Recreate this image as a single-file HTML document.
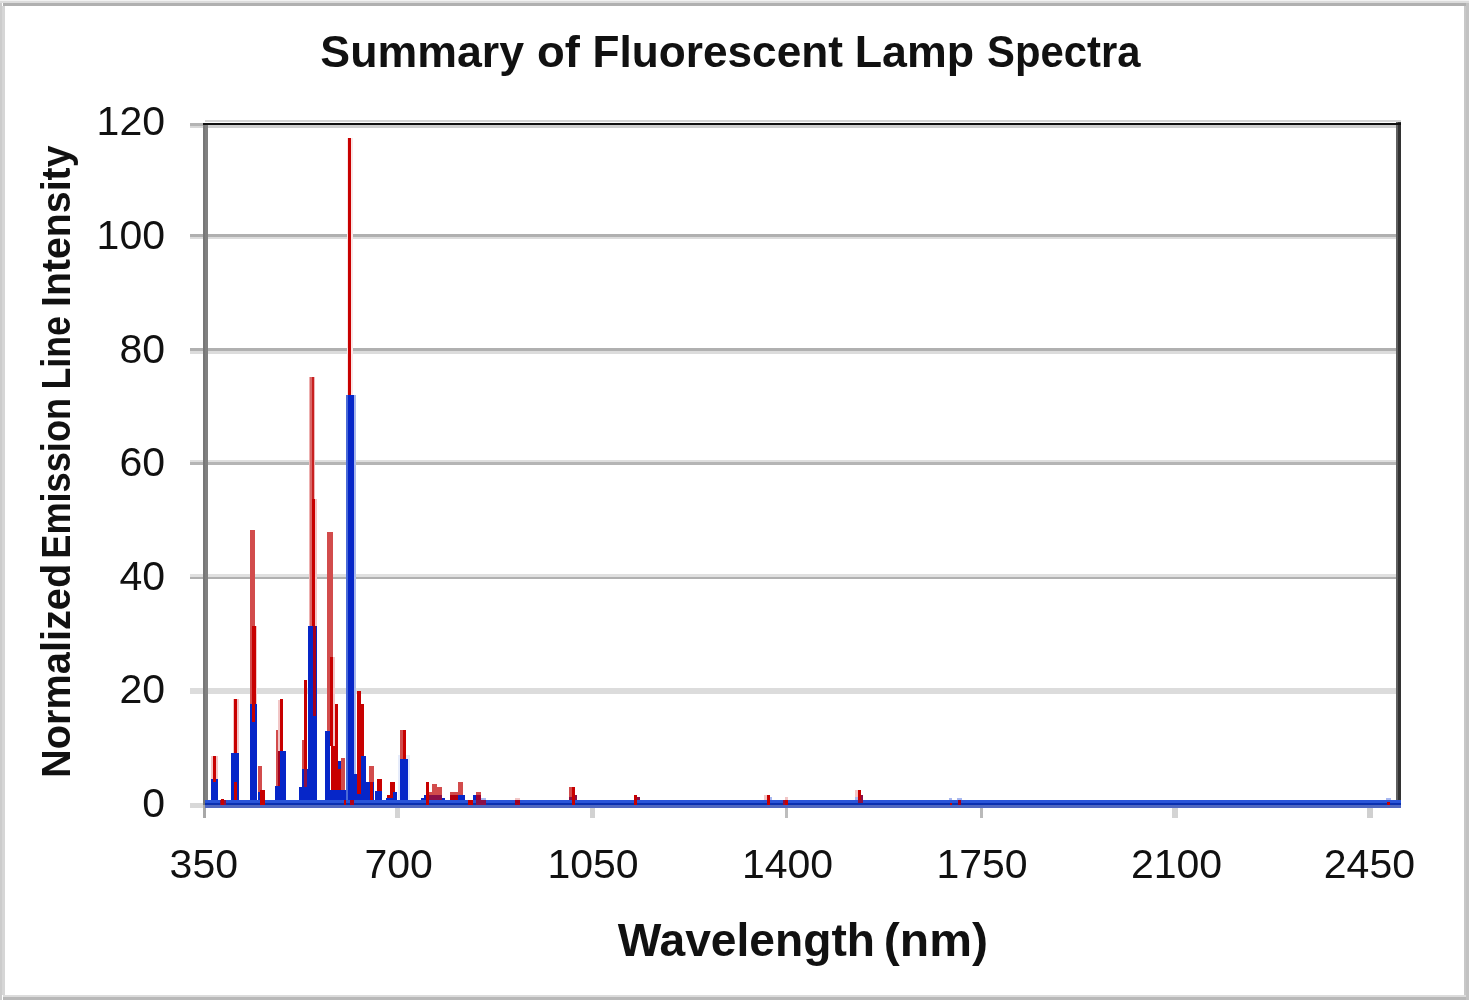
<!DOCTYPE html>
<html><head><meta charset="utf-8">
<style>
html,body{margin:0;padding:0;background:#fff;}
body{width:1469px;height:1000px;overflow:hidden;position:relative;font-family:"Liberation Sans",sans-serif;}
svg{position:absolute;left:0;top:0;filter:blur(0.5px);}
</style></head>
<body>
<svg width="1469" height="1000" viewBox="0 0 1469 1000" shape-rendering="crispEdges">
<!-- outer frame -->
<rect x="0" y="0" width="1469" height="1000" fill="#fff"/>
<rect x="0" y="0" width="1469" height="1" fill="#f2f2f2"/>
<rect x="0" y="1" width="1469" height="2" fill="#dcdcdc"/>
<rect x="3" y="3" width="1463" height="3" fill="#b0b0b0"/>
<rect x="0" y="3" width="2" height="997" fill="#cccccc"/>
<rect x="2" y="6" width="3" height="989" fill="#d6d6d6"/>
<rect x="1464" y="6" width="2" height="989" fill="#c8c8c8"/>
<rect x="1466" y="3" width="3" height="997" fill="#c2c2c2"/>
<rect x="3" y="995" width="1463" height="2" fill="#dcdcdc"/>
<rect x="3" y="997" width="1463" height="3" fill="#b8b8b8"/>

<!-- right border -->
<rect x="1396" y="122" width="2" height="686" fill="#606060"/>
<rect x="1398" y="122" width="3" height="686" fill="#333"/>
<!-- gridlines -->
<g id="grid">
<rect x="205" y="120" width="1196" height="2" fill="#d4d4d4"/>
<rect x="208" y="125" width="1188" height="3" fill="#d0d0d0"/>
<rect x="190" y="123" width="13" height="2.5" fill="#b4b4b4"/>
<rect x="190" y="125.5" width="13" height="2.5" fill="#d8d8d8"/>
<rect x="190" y="234" width="1206" height="3" fill="#b0b0b0"/>
<rect x="190" y="237" width="1206" height="2" fill="#dcdcdc"/>
<rect x="190" y="348" width="1206" height="3" fill="#b0b0b0"/>
<rect x="190" y="351" width="1206" height="3" fill="#dcdcdc"/>
<rect x="190" y="460" width="1206" height="2" fill="#dedede"/>
<rect x="190" y="462" width="1206" height="3" fill="#b5b5b5"/>
<rect x="190" y="574" width="1206" height="3" fill="#e0e0e0"/>
<rect x="190" y="577" width="1206" height="2" fill="#b0b0b0"/>
<rect x="190" y="688" width="1206" height="6" fill="#dcdcdc"/>
<rect x="190" y="803" width="14" height="5" fill="#d8d8d8"/>
<rect x="203" y="122.5" width="1198" height="2.5" fill="#111"/>
</g>
<!-- y axis -->
<rect x="203" y="125" width="2" height="693" fill="#777"/>
<rect x="205" y="125" width="3" height="682" fill="#808080"/>
<!-- x ticks -->
<g id="xticks">
<rect x="203" y="805" width="2.5" height="13" fill="#a8a8a8"/>
<rect x="395.1" y="808" width="4.9" height="10" fill="#d4d4d4"/>
<rect x="590" y="808" width="5" height="10" fill="#d2d2d2"/>
<rect x="785" y="808" width="2.8" height="10" fill="#bdbdbd"/>
<rect x="980" y="808" width="2.9" height="10" fill="#bababa"/>
<rect x="1172.1" y="808" width="5.4" height="10" fill="#d4d4d4"/>
<rect x="1367.1" y="808" width="5.8" height="10" fill="#d0d0d0"/>
</g>

<g id="data">
<rect x="211" y="756" width="7" height="23" fill="#f2c6c6"/>
<rect x="210.6" y="779" width="7.4" height="21" fill="#0626c8"/>
<rect x="213" y="755.8" width="3.2" height="26.2" fill="#c80000"/>
<rect x="219.5" y="800" width="6.0" height="5" fill="#8a1048"/>
<rect x="220.8" y="799" width="2.8" height="6" fill="#c80000"/>
<rect x="233" y="699" width="6" height="54" fill="#f2c6c6"/>
<rect x="231.3" y="753.3" width="7.7" height="46.7" fill="#0626c8"/>
<rect x="234" y="698.8" width="3" height="54.5" fill="#c80000"/>
<rect x="234" y="782" width="3" height="17.5" fill="#c80000"/>
<rect x="249.6" y="530" width="5.4" height="174" fill="#d24c4c"/>
<rect x="255" y="626" width="2" height="78" fill="#f2c6c6"/>
<rect x="251.6" y="626" width="4.0" height="78" fill="#c80000"/>
<rect x="249.6" y="703.8" width="7.8" height="96.2" fill="#0626c8"/>
<rect x="252" y="703.8" width="3" height="18.2" fill="#c80000"/>
<rect x="257.7" y="766" width="4.5" height="34" fill="#d24c4c"/>
<rect x="257.5" y="792" width="4.5" height="8" fill="#0626c8"/>
<rect x="259.8" y="789.5" width="5.4" height="15.5" fill="#c80000"/>
<rect x="275.7" y="730" width="5.1" height="56" fill="#d24c4c"/>
<rect x="279.6" y="699" width="3.6" height="51.5" fill="#c80000"/>
<rect x="278.2" y="700" width="1.4" height="50.5" fill="#f2c6c6"/>
<rect x="278.4" y="750.5" width="2.2" height="35.5" fill="#a00020"/>
<rect x="280.2" y="750.5" width="5.6" height="49.5" fill="#0626c8"/>
<rect x="275.4" y="786" width="5.4" height="14" fill="#0626c8"/>
<rect x="299" y="786.7" width="6" height="13.3" fill="#0626c8"/>
<rect x="301.7" y="740" width="3.3" height="47" fill="#d24c4c"/>
<rect x="302.3" y="768.7" width="7.2" height="31.3" fill="#0626c8"/>
<rect x="303.8" y="680" width="3.4" height="88.7" fill="#c80000"/>
<rect x="303.8" y="768.7" width="3.4" height="18.3" fill="#8a1048"/>
<rect x="307.8" y="626" width="9.6" height="174" fill="#0626c8"/>
<rect x="308.8" y="376.8" width="0.9" height="249.2" fill="#eeb0b0"/>
<rect x="309.7" y="376.8" width="2.3" height="249.2" fill="#d86868"/>
<rect x="312" y="376.8" width="2.2" height="122.2" fill="#c82020"/>
<rect x="314.2" y="376.8" width="1.1" height="122.2" fill="#eeb8b8"/>
<rect x="314.2" y="499" width="2.8" height="127" fill="#f2c6c6"/>
<rect x="311.8" y="499" width="3.2" height="127" fill="#c80000"/>
<rect x="312.5" y="626" width="3.7" height="90" fill="#a00020"/>
<rect x="327.4" y="532" width="5.6" height="214" fill="#d24c4c"/>
<rect x="333" y="657" width="2" height="89" fill="#f2c6c6"/>
<rect x="330" y="657" width="3" height="89" fill="#c80000"/>
<rect x="325" y="730.5" width="5.3" height="69.5" fill="#0626c8"/>
<rect x="335.2" y="704" width="2.8" height="86" fill="#c80000"/>
<rect x="330.6" y="746" width="5.0" height="44" fill="#c80000"/>
<rect x="338" y="768.6" width="4.8" height="25.4" fill="#c80000"/>
<rect x="338.2" y="760.8" width="2.8" height="7.8" fill="#0626c8"/>
<rect x="341" y="758.4" width="4.2" height="36.6" fill="#d24c4c"/>
<rect x="325" y="790" width="21" height="10" fill="#0626c8"/>
<rect x="346.5" y="138" width="6.5" height="257" fill="#fae6e6"/>
<rect x="345.8" y="395" width="2.4" height="405" fill="#4a6ad8"/>
<rect x="353.6" y="395" width="2.4" height="405" fill="#a8b8ec"/>
<rect x="348.2" y="395" width="5.4" height="405" fill="#0626c8"/>
<rect x="348" y="138" width="3.2" height="257" fill="#c80000"/>
<rect x="354" y="773.5" width="2.6" height="26.5" fill="#0626c8"/>
<rect x="343.5" y="800" width="2.5" height="5" fill="#c80000"/>
<rect x="349.5" y="800" width="4.0" height="5" fill="#b00018"/>
<rect x="356.5" y="691" width="4.5" height="103" fill="#c80000"/>
<rect x="359" y="704" width="4.7" height="90" fill="#c80000"/>
<rect x="361.2" y="756" width="4.6" height="44" fill="#0626c8"/>
<rect x="354" y="794" width="7.2" height="6" fill="#0626c8"/>
<rect x="366.4" y="782" width="7.2" height="18" fill="#0626c8"/>
<rect x="369" y="766.4" width="5.2" height="15.6" fill="#d24c4c"/>
<rect x="370" y="782" width="3" height="18" fill="#c80000"/>
<rect x="376.8" y="779.4" width="5.2" height="12.6" fill="#c80000"/>
<rect x="374.9" y="791" width="7.1" height="9" fill="#0626c8"/>
<rect x="387" y="794.8" width="3.2" height="5.2" fill="#c80000"/>
<rect x="390.2" y="782.2" width="4.5" height="15.3" fill="#c80000"/>
<rect x="393.3" y="792" width="4.1" height="8" fill="#0626c8"/>
<rect x="385.7" y="797.5" width="8.1" height="2.5" fill="#0626c8"/>
<rect x="398" y="755" width="12" height="45" fill="#e6ecfb"/>
<rect x="400" y="730" width="2.5" height="29" fill="#d24c4c"/>
<rect x="402.5" y="730" width="3.0" height="29" fill="#c80000"/>
<rect x="400" y="759" width="8.2" height="41" fill="#0626c8"/>
<rect x="421.2" y="797.6" width="23.6" height="2.4" fill="#0626c8"/>
<rect x="424" y="795.2" width="8" height="4.8" fill="#0626c8"/>
<rect x="429.2" y="795" width="12.8" height="5" fill="#8a1048"/>
<rect x="431.8" y="784" width="5.0" height="11" fill="#d24c4c"/>
<rect x="436.8" y="787.2" width="5.2" height="7.8" fill="#d24c4c"/>
<rect x="429.2" y="791.6" width="2.6" height="3.4" fill="#d24c4c"/>
<rect x="426.2" y="782" width="2.6" height="23" fill="#c80000"/>
<rect x="450.2" y="792.2" width="7.6" height="2.8" fill="#d24c4c"/>
<rect x="450.2" y="795" width="7.6" height="5" fill="#b00010"/>
<rect x="458.2" y="795" width="6.8" height="5" fill="#0626c8"/>
<rect x="457.8" y="782" width="5.0" height="13" fill="#d24c4c"/>
<rect x="468.2" y="800" width="4.6" height="5" fill="#c80000"/>
<rect x="473.4" y="795" width="2.4" height="5" fill="#0626c8"/>
<rect x="476" y="792.2" width="4.8" height="2.8" fill="#d24c4c"/>
<rect x="476" y="795" width="4.8" height="5" fill="#a00030"/>
<rect x="481" y="797.6" width="5" height="2.4" fill="#a8b8f0"/>
<rect x="476" y="800" width="10" height="5" fill="#8a1048"/>
<rect x="515" y="798" width="5" height="2" fill="#f2c6c6"/>
<rect x="515" y="800" width="5" height="5" fill="#a00020"/>
<rect x="569.2" y="787" width="2.8" height="10" fill="#d24c4c"/>
<rect x="569.2" y="797" width="2.8" height="3" fill="#8a1048"/>
<rect x="572" y="787" width="2.7" height="18" fill="#c80000"/>
<rect x="574.7" y="795" width="2.3" height="5" fill="#8a1048"/>
<rect x="634" y="795" width="3" height="10" fill="#c80000"/>
<rect x="637" y="797" width="3" height="3" fill="#8a1048"/>
<rect x="764" y="795" width="3" height="5" fill="#f2c6c6"/>
<rect x="767" y="795" width="2.5" height="10" fill="#c80000"/>
<rect x="769.5" y="797" width="2.5" height="3" fill="#a8b8f0"/>
<rect x="785" y="797" width="2.5" height="3" fill="#f2c6c6"/>
<rect x="783" y="800" width="2" height="5" fill="#8a1048"/>
<rect x="785" y="800" width="2.5" height="5" fill="#c80000"/>
<rect x="855.2" y="790" width="2.8" height="7" fill="#f2c6c6"/>
<rect x="855.2" y="797" width="2.8" height="3" fill="#a8b8f0"/>
<rect x="858" y="790" width="2.6" height="10" fill="#c80000"/>
<rect x="860.6" y="795" width="2.4" height="5" fill="#8a1048"/>
<rect x="858" y="800" width="5" height="3" fill="#8a1048"/>
<rect x="949" y="798" width="3.4" height="2" fill="#a8b8f0"/>
<rect x="950" y="803" width="2" height="2" fill="#c80000"/>
<rect x="957" y="798" width="5" height="2" fill="#a8b8f0"/>
<rect x="958" y="800" width="3" height="5" fill="#a00020"/>
<rect x="1386" y="797.6" width="5" height="2.4" fill="#a8b8f0"/>
<rect x="1387" y="802" width="3" height="3" fill="#c80000"/>
</g>
<g id="base">
<rect x="205" y="800" width="1196" height="3" fill="#2a55d8"/>
<rect x="205" y="803" width="1196" height="2" fill="#0a30b0"/>
<rect x="205" y="805" width="1196" height="3" fill="#5068c0"/>
</g>
<g id="over">
<rect x="219.5" y="800" width="6.0" height="5" fill="#8a1048"/>
<rect x="220.8" y="800" width="2.8" height="5" fill="#c80000"/>
<rect x="259.8" y="800" width="5.4" height="5" fill="#c80000"/>
<rect x="343.5" y="800" width="2.5" height="5" fill="#c80000"/>
<rect x="349.5" y="800" width="4.0" height="5" fill="#b00018"/>
<rect x="426.2" y="800" width="2.6" height="5" fill="#c80000"/>
<rect x="468.2" y="800" width="4.6" height="5" fill="#c80000"/>
<rect x="476" y="800" width="10" height="5" fill="#8a1048"/>
<rect x="515" y="800" width="5" height="5" fill="#a00020"/>
<rect x="572" y="800" width="2.7" height="5" fill="#c80000"/>
<rect x="634" y="800" width="3" height="5" fill="#c80000"/>
<rect x="767" y="800" width="2.5" height="5" fill="#c80000"/>
<rect x="783" y="800" width="2" height="5" fill="#8a1048"/>
<rect x="785" y="800" width="2.5" height="5" fill="#c80000"/>
<rect x="858" y="800" width="5" height="3" fill="#8a1048"/>
<rect x="950" y="803" width="2" height="2" fill="#c80000"/>
<rect x="958" y="800" width="3" height="5" fill="#a00020"/>
<rect x="1387" y="802" width="3" height="3" fill="#c80000"/>
</g>

<!-- text -->
<g font-family="Liberation Sans" fill="#111">
<text x="320.38" y="66.5" font-size="44" font-weight="bold" textLength="203.77" lengthAdjust="spacingAndGlyphs">Summary</text>
<text x="536.94" y="66.5" font-size="44" font-weight="bold" textLength="42.88" lengthAdjust="spacingAndGlyphs">of</text>
<text x="592.59" y="66.5" font-size="44" font-weight="bold" textLength="250.30" lengthAdjust="spacingAndGlyphs">Fluorescent</text>
<text x="854.75" y="66.5" font-size="44" font-weight="bold" textLength="119.33" lengthAdjust="spacingAndGlyphs">Lamp</text>
<text x="987.05" y="66.5" font-size="44" font-weight="bold" textLength="153.40" lengthAdjust="spacingAndGlyphs">Spectra</text>
<text x="617.70" y="955.5" font-size="45.5" font-weight="bold" textLength="257.29" lengthAdjust="spacingAndGlyphs">Wavelength</text>
<text x="883.79" y="955.5" font-size="45.5" font-weight="bold" textLength="104.22" lengthAdjust="spacingAndGlyphs">(nm)</text>
<text transform="translate(70,775) rotate(-90)" x="-2.98" y="0" font-size="40" font-weight="bold" textLength="214.17" lengthAdjust="spacingAndGlyphs">Normalized</text>
<text transform="translate(70,556) rotate(-90)" x="-2.71" y="0" font-size="40" font-weight="bold" textLength="160.78" lengthAdjust="spacingAndGlyphs">Emission</text>
<text transform="translate(70,386.8) rotate(-90)" x="-2.68" y="0" font-size="40" font-weight="bold" textLength="73.38" lengthAdjust="spacingAndGlyphs">Line</text>
<text transform="translate(70,304) rotate(-90)" x="-2.94" y="0" font-size="40" font-weight="bold" textLength="161.42" lengthAdjust="spacingAndGlyphs">Intensity</text>
<g id="ylabels" font-size="41" text-anchor="end">
<text x="165" y="135">120</text>
<text x="165" y="248.5">100</text>
<text x="165" y="362.5">80</text>
<text x="165" y="476">60</text>
<text x="165" y="589.5">40</text>
<text x="165" y="703">20</text>
<text x="165" y="816.5">0</text>
</g>
<g id="xlabels" font-size="41" text-anchor="middle">
<text x="203.8" y="878">350</text>
<text x="398.7" y="878">700</text>
<text x="593" y="878">1050</text>
<text x="787.5" y="878">1400</text>
<text x="982" y="878">1750</text>
<text x="1176.5" y="878">2100</text>
<text x="1369.4" y="878">2450</text>
</g>
</g>
</svg>
</body></html>
